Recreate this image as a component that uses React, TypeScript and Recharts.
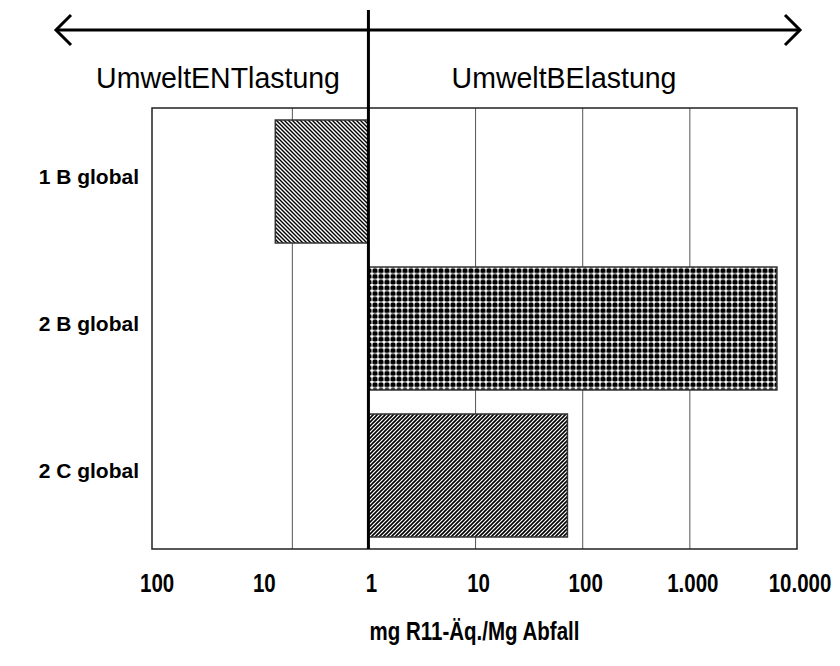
import React from 'react';
import { BarChart, Bar, XAxis, YAxis, Cell, CartesianGrid, ReferenceLine, ReferenceArea } from 'recharts';

// Categories and values (mg R11-Äq./Mg Abfall); negative = UmweltENTlastung
const categories = ['1 B global', '2 B global', '2 C global'];
const values = [-7.4, 6500, 72];
// Axis: position in decades from 1 (left = Entlastung, right = Belastung)
const xDomain = [-2.02, 4];
const tickPositions = [-2, -1, 0, 1, 2, 3, 4];
const tickLabels = ['100', '10', '1', '10', '100', '1.000', '10.000'];
const gridPositions = [-0.71, 1, 2, 3];
const patterns = ['pBack', 'pDots', 'pFwd'];

const data = categories.map((name, i) => ({
  name,
  range: values[i] < 0 ? [-Math.log10(-values[i]), 0] : [0, Math.log10(values[i])],
}));

const SANS = "'Liberation Sans', Arial, sans-serif";
const NARROW_X = 0.82;
const HEADER_X = 0.95;

const XTick = (props: any) => {
  const { x, y, payload, index } = props;
  return (
    <g transform={`translate(${x + 3},${y}) scale(${NARROW_X},1)`}>
      <text x={0} y={0} dy={35} textAnchor="middle" fontFamily={SANS} fontWeight="bold" fontSize={25} fill="#000">
        {tickLabels[index] ?? payload.value}
      </text>
    </g>
  );
};

const YTick = (props: any) => {
  const { x, y, payload } = props;
  return (
    <text x={x + 1} y={y} dy={2} textAnchor="end" fontFamily={SANS} fontWeight="bold" fontSize={21} fill="#000">
      {payload.value}
    </text>
  );
};

const XTitle = (props: any) => {
  const vb = props.viewBox || {};
  const cx = (vb.x ?? 152) + (vb.width ?? 645) / 2;
  const top = vb.y ?? 549;
  return (
    <g transform={`translate(${cx},${top}) scale(${NARROW_X},1)`}>
      <text x={0} y={91} textAnchor="middle" fontFamily={SANS} fontWeight="bold" fontSize={25} fill="#000">
        mg R11-Äq./Mg Abfall
      </text>
    </g>
  );
};

const gridGen = (p: any) => {
  const off = p.offset || {};
  const left = off.left ?? 152;
  const w = off.width ?? 645;
  return gridPositions.map((g) => left + ((g - xDomain[0]) / (xDomain[1] - xDomain[0])) * w);
};

export default function App() {
  return (
    <div style={{ position: 'absolute', left: 0, top: 0, width: 840, height: 666, background: '#fff' }}>
      <BarChart
        width={840}
        height={666}
        data={data}
        layout="vertical"
        margin={{ top: 108, right: 43, bottom: 57, left: 0 }}
        barCategoryGap="8%"
      >
        <defs>
          <pattern id="pBack" patternUnits="userSpaceOnUse" width={4} height={4}>
            <rect width={4} height={4} fill="#fff" />
            <path d="M-1,3 l2,2 M0,0 l4,4 M3,-1 l2,2" stroke="#000" strokeWidth={1.4} />
          </pattern>
          <pattern id="pFwd" patternUnits="userSpaceOnUse" width={4} height={4}>
            <rect width={4} height={4} fill="#fff" />
            <path d="M-1,1 l2,-2 M0,4 l4,-4 M3,5 l2,-2" stroke="#000" strokeWidth={1.6} />
          </pattern>
          <pattern id="pDots" patternUnits="userSpaceOnUse" width={6} height={5.7}>
            <rect width={6} height={5.7} fill="#fff" />
            <path d="M1.7,0.5 h2.6 l1.2,1.2 v2.3 l-1.2,1.2 h-2.6 l-1.2,-1.2 v-2.3 z" fill="#000" />
          </pattern>
        </defs>
        <CartesianGrid
          horizontal={false}
          stroke="#555"
          strokeWidth={1}
          verticalCoordinatesGenerator={gridGen}
        />
        <XAxis
          type="number"
          dataKey="range"
          domain={xDomain}
          ticks={tickPositions}
          allowDataOverflow
          axisLine={false}
          tickLine={false}
          tick={<XTick />}
          height={60}
          interval={0}
          label={<XTitle />}
        />
        <YAxis type="category" dataKey="name" width={152} axisLine={false} tickLine={false} tick={<YTick />} tickMargin={8} />
        <Bar dataKey="range" isAnimationActive={false} stroke="#333" strokeWidth={1.5} barSize={123}>
          {data.map((d, i) => (
            <Cell key={d.name} fill={`url(#${patterns[i]})`} />
          ))}
        </Bar>
        <ReferenceArea x1={xDomain[0]} x2={xDomain[1]} fill="none" stroke="#222" strokeWidth={1.5} ifOverflow="visible" />
        <ReferenceLine
          x={0}
          stroke="#000"
          strokeWidth={3}
          ifOverflow="visible"
          shape={(p: any) => (
            <line x1={p.x1} x2={p.x2} y1={10} y2={Math.max(p.y1, p.y2)} stroke="#000" strokeWidth={3} />
          )}
        />
      </BarChart>
      <svg width={840} height={110} style={{ position: 'absolute', left: 0, top: 0, pointerEvents: 'none' }}>
        <line x1={56} y1={30} x2={800} y2={30} stroke="#000" strokeWidth={3} />
        <polyline points="71,15 56,30 71,45" fill="none" stroke="#000" strokeWidth={3} />
        <polyline points="785,15 800,30 785,45" fill="none" stroke="#000" strokeWidth={3} />
        <g transform={`translate(218,0) scale(${HEADER_X},1)`}>
          <text x={0} y={88} textAnchor="middle" fontFamily={SANS} fontSize={30} fill="#000">UmweltENTlastung</text>
        </g>
        <g transform={`translate(564,0) scale(${HEADER_X},1)`}>
          <text x={0} y={88} textAnchor="middle" fontFamily={SANS} fontSize={30} fill="#000">UmweltBElastung</text>
        </g>
      </svg>
    </div>
  );
}
